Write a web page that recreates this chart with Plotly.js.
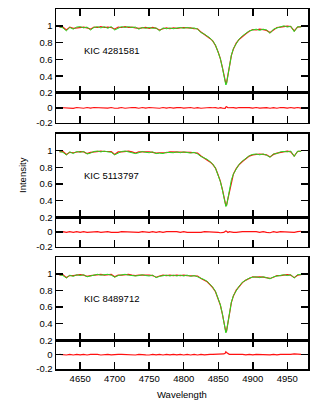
<!DOCTYPE html>
<html>
<head>
<meta charset="utf-8">
<script src="https://cdn.plot.ly/plotly-3.0.1.min.js"></script>
<style>
  html, body { margin: 0; padding: 0; background: #fff; }
  #plot { width: 321px; height: 411px; }
</style>
</head>
<body>
<div id="plot"></div>
<script>
// wavelength grid (shared by all three stars)
var wave = [4620,4625,4630,4635,4640,4645,4650,4655,4660,4665,4670,4675,4680,4685,4690,4695,4700,4705,4710,4715,
            4720,4725,4730,4735,4740,4745,4750,4755,4760,4765,4770,4775,4780,4785,4790,4795,4800,4805,4810,4815,
            4820,4825,4830,4834,4838,4842,4846,4850,4853,4856,4858,4860,4861,4862,4864,4866,4869,4872,4876,4880,
            4885,4890,4895,4900,4905,4910,4915,4920,4925,4930,4935,4940,4945,4950,4955,4960,4965,4970];

var starNames = ['KIC 4281581', 'KIC 5113797', 'KIC 8489712'];

// KIC 4281581
var obs1 = [0.99,0.975,0.94,0.98,0.96,0.985,0.99,0.975,0.985,0.95,0.98,0.99,0.975,0.99,0.97,0.99,0.95,0.975,0.99,0.98,
            0.99,0.98,0.985,0.96,0.98,0.97,0.98,0.97,0.975,0.94,0.975,0.965,0.975,0.965,0.975,0.98,0.97,0.98,0.97,0.975,
            0.96,0.92,0.9,0.88,0.855,0.82,0.77,0.68,0.61,0.5,0.42,0.33,0.295,0.31,0.41,0.53,0.65,0.73,0.79,0.84,
            0.88,0.91,0.94,0.95,0.96,0.945,0.96,0.95,0.91,0.96,0.975,0.99,1.0,0.985,0.995,0.93,0.99,0.985];
var mod1 = [0.985,0.985,0.95,0.985,0.97,0.975,0.985,0.985,0.975,0.96,0.985,0.98,0.99,0.98,0.985,0.98,0.96,0.985,0.98,0.99,
            0.98,0.985,0.975,0.97,0.975,0.98,0.97,0.98,0.97,0.95,0.965,0.975,0.965,0.975,0.97,0.975,0.98,0.975,0.975,0.965,
            0.965,0.925,0.9,0.875,0.85,0.82,0.765,0.685,0.61,0.505,0.425,0.34,0.31,0.32,0.41,0.525,0.645,0.725,0.795,0.835,
            0.875,0.905,0.935,0.955,0.95,0.96,0.955,0.945,0.92,0.955,0.98,0.985,0.99,0.995,0.99,0.94,0.985,0.99];
var res1 = [0.005,0.004,-0.005,-0.004,-0.006,0.005,0.004,-0.005,0.005,-0.004,0.005,0.004,-0.005,0.004,-0.004,0.005,-0.005,-0.004,0.005,-0.005,
            0.004,0.005,0.004,-0.005,0.005,-0.004,0.005,0.004,-0.004,-0.005,0.005,-0.004,0.005,-0.004,0.004,0.005,-0.004,0.004,0.005,-0.005,
            0.004,-0.005,0.002,0.004,0.005,0.002,0.004,-0.005,0.002,-0.004,-0.005,-0.008,0.012,0.015,0.002,0.004,0.005,0.004,-0.004,0.005,
            0.004,0.005,0.004,-0.004,0.005,-0.004,0.005,0.004,-0.005,0.004,-0.005,0.005,0.004,-0.004,0.005,-0.004,0.005,-0.004];

// KIC 5113797
var obs2 = [0.99,0.98,0.948,0.985,0.965,0.99,0.98,0.99,0.96,0.97,0.99,0.995,0.985,0.995,0.985,0.98,0.95,0.975,0.99,0.995,
            0.985,0.98,0.965,0.975,0.99,0.98,0.975,0.985,0.965,0.97,0.965,0.98,0.98,0.975,0.985,0.975,0.985,0.975,0.97,0.98,
            0.96,0.93,0.915,0.896,0.87,0.84,0.79,0.7,0.63,0.53,0.45,0.36,0.33,0.335,0.42,0.53,0.65,0.72,0.78,0.835,
            0.875,0.91,0.94,0.955,0.96,0.95,0.96,0.945,0.92,0.96,0.965,0.985,0.99,0.985,0.995,0.93,0.995,0.99];
var mod2 = [0.985,0.99,0.955,0.98,0.975,0.985,0.99,0.985,0.965,0.98,0.985,0.99,0.995,0.99,0.99,0.99,0.955,0.985,0.985,0.99,
            0.995,0.985,0.97,0.985,0.985,0.99,0.985,0.98,0.97,0.975,0.975,0.975,0.985,0.985,0.98,0.985,0.98,0.985,0.98,0.975,
            0.97,0.935,0.91,0.89,0.865,0.835,0.79,0.705,0.635,0.535,0.455,0.37,0.34,0.345,0.42,0.525,0.645,0.72,0.785,0.83,
            0.87,0.905,0.935,0.95,0.955,0.96,0.955,0.95,0.925,0.955,0.97,0.98,0.985,0.995,0.985,0.935,0.99,0.995];
var res2 = [-0.004,0.004,-0.005,0.004,-0.004,0.005,-0.005,0.004,-0.005,-0.004,0.005,0.004,-0.005,0.004,0.005,-0.004,-0.005,-0.004,0.005,0.004,
            -0.004,0.005,-0.005,-0.004,0.005,-0.004,-0.005,0.005,-0.004,0.005,-0.005,0.004,0.005,-0.004,0.005,-0.004,0.005,-0.004,-0.005,0.004,
            -0.005,-0.004,0.005,0.004,0.005,0.004,-0.004,-0.006,-0.01,-0.012,-0.006,0.005,0.015,0.01,-0.006,0.004,0.005,-0.004,-0.005,0.004,
            0.005,0.004,0.005,0.004,0.005,-0.004,0.005,-0.005,-0.01,0.004,-0.005,0.005,0.004,-0.004,0.005,-0.004,0.005,0.01];

// KIC 8489712
var obs3 = [0.99,0.98,0.95,0.985,0.97,0.99,0.98,0.99,0.965,0.975,0.99,0.995,0.985,0.99,0.995,0.985,0.96,0.98,0.99,0.995,
            0.985,0.98,0.975,0.98,0.99,0.98,0.975,0.985,0.955,0.97,0.98,0.985,0.975,0.985,0.975,0.985,0.975,0.985,0.97,0.98,
            0.965,0.95,0.93,0.91,0.875,0.84,0.79,0.7,0.63,0.52,0.43,0.34,0.29,0.31,0.41,0.53,0.66,0.74,0.8,0.85,
            0.9,0.93,0.95,0.96,0.965,0.955,0.965,0.955,0.94,0.965,0.975,0.985,0.99,0.98,0.99,0.95,0.99,0.995];
var mod3 = [0.985,0.99,0.955,0.98,0.98,0.985,0.99,0.985,0.97,0.98,0.985,0.99,0.995,0.985,0.99,0.995,0.965,0.985,0.985,0.99,
            0.995,0.985,0.98,0.985,0.985,0.99,0.985,0.98,0.96,0.975,0.985,0.98,0.985,0.98,0.985,0.98,0.985,0.98,0.98,0.975,
            0.975,0.945,0.925,0.905,0.87,0.835,0.785,0.695,0.625,0.515,0.425,0.33,0.3,0.31,0.4,0.525,0.655,0.735,0.805,0.845,
            0.895,0.925,0.945,0.965,0.96,0.965,0.96,0.95,0.945,0.96,0.98,0.98,0.985,0.99,0.985,0.955,0.985,0.99];
var res3 = [0.004,-0.004,-0.005,0.004,-0.005,0.004,-0.004,0.005,-0.005,0.004,0.005,0.004,-0.005,0.004,0.005,-0.004,-0.005,0.004,0.005,0.004,
            -0.004,0.005,-0.005,0.004,0.005,-0.004,-0.005,0.004,-0.004,0.005,-0.005,0.004,-0.004,0.005,-0.004,0.004,-0.005,0.004,-0.005,0.004,
            -0.005,0.004,-0.004,0.005,0.004,0.005,0.004,0.005,0.004,0.005,0.01,0.02,0.04,0.03,0.01,0.004,0.005,0.004,-0.005,0.004,
            0.005,-0.004,0.005,-0.004,0.005,0.004,-0.004,0.005,-0.004,0.005,-0.004,0.005,0.004,-0.004,0.005,0.01,0.004,0.005];

var obsList = [obs1, obs2, obs3];
var modList = [mod1, mod2, mod3];
var resList = [res1, res2, res3];

// [bottom of residual box, separator, top of spectrum box] in paper units
var panels = [[0.684, 0.7667, 1.0], [0.3397, 0.4214, 0.6528], [0.0, 0.0797, 0.3103]];

var green = '#22e022';
var red = '#ff1010';
var font = {family: 'Liberation Sans, Arial, sans-serif', size: 9.5, color: '#000'};

var data = [];
var layout = {
    width: 321,
    height: 411,
    margin: {l: 56, r: 13, t: 9, b: 42},
    paper_bgcolor: '#fff',
    plot_bgcolor: '#fff',
    showlegend: false,
    font: font,
    annotations: []
};

function xAxis(showLabels, anchor) {
    return {
        anchor: anchor,
        range: [4615, 4980],
        tickvals: [4650, 4700, 4750, 4800, 4850, 4900, 4950],
        ticks: 'inside', ticklen: 7, tickwidth: 1.5, tickcolor: '#000',
        mirror: 'ticks', showline: true, linewidth: 1.5, linecolor: '#000',
        showgrid: false, zeroline: false,
        showticklabels: showLabels,
        tickfont: font
    };
}

function yAxis(domain, range, vals, texts, anchor) {
    return {
        anchor: anchor,
        domain: domain,
        range: range,
        tickvals: vals,
        ticktext: texts,
        ticks: 'inside', ticklen: 7, tickwidth: 1.5, tickcolor: '#000',
        mirror: 'ticks', showline: true, linewidth: 1.5, linecolor: '#000',
        showgrid: false, zeroline: false,
        tickfont: font
    };
}

for (var k = 0; k < 3; k++) {
    var up = 2 * k + 1, lo = 2 * k + 2;
    var xu = up === 1 ? 'x' : 'x' + up, yu = up === 1 ? 'y' : 'y' + up;
    var xl = 'x' + lo, yl = 'y' + lo;

    data.push({x: wave, y: modList[k], xaxis: xu, yaxis: yu, type: 'scatter', mode: 'lines',
               line: {color: red, width: 1.2}});
    data.push({x: wave, y: obsList[k], xaxis: xu, yaxis: yu, type: 'scatter', mode: 'lines',
               line: {color: green, width: 1}});
    data.push({x: wave, y: resList[k], xaxis: xl, yaxis: yl, type: 'scatter', mode: 'lines',
               line: {color: red, width: 1.2}});

    layout['xaxis' + (up === 1 ? '' : up)] = xAxis(false, yu);
    layout['xaxis' + lo] = xAxis(k === 2, yl);
    if (lo !== 2) layout['xaxis' + lo].matches = 'x';
    if (up !== 1) layout['xaxis' + up].matches = 'x';
    layout['yaxis' + (up === 1 ? '' : up)] = yAxis([panels[k][1], panels[k][2]], [0.2, 1.2],
        [0.2, 0.4, 0.6, 0.8, 1], ['0.2', '0.4', '0.6', '0.8', '1'], xu);
    layout['yaxis' + lo] = yAxis([panels[k][0], panels[k][1]], [-0.2, 0.2],
        [-0.2, 0], ['-0.2', '0'], xl);

    // star name
    layout.annotations.push({
        xref: xu, yref: yu, x: 4653, y: 0.7, text: starNames[k],
        showarrow: false, xanchor: 'left', yanchor: 'middle', font: font
    });
}

layout.annotations.push({
    xref: 'paper', yref: 'paper', x: -0.131, y: 0.539, text: 'Intensity',
    textangle: -90, showarrow: false, xanchor: 'center', yanchor: 'middle', font: font
});
layout.annotations.push({
    xref: 'paper', yref: 'paper', x: 0.5, y: -0.072, text: 'Wavelength',
    showarrow: false, xanchor: 'center', yanchor: 'middle', font: font
});

Plotly.newPlot('plot', data, layout, {staticPlot: true, displayModeBar: false});
</script>
</body>
</html>
